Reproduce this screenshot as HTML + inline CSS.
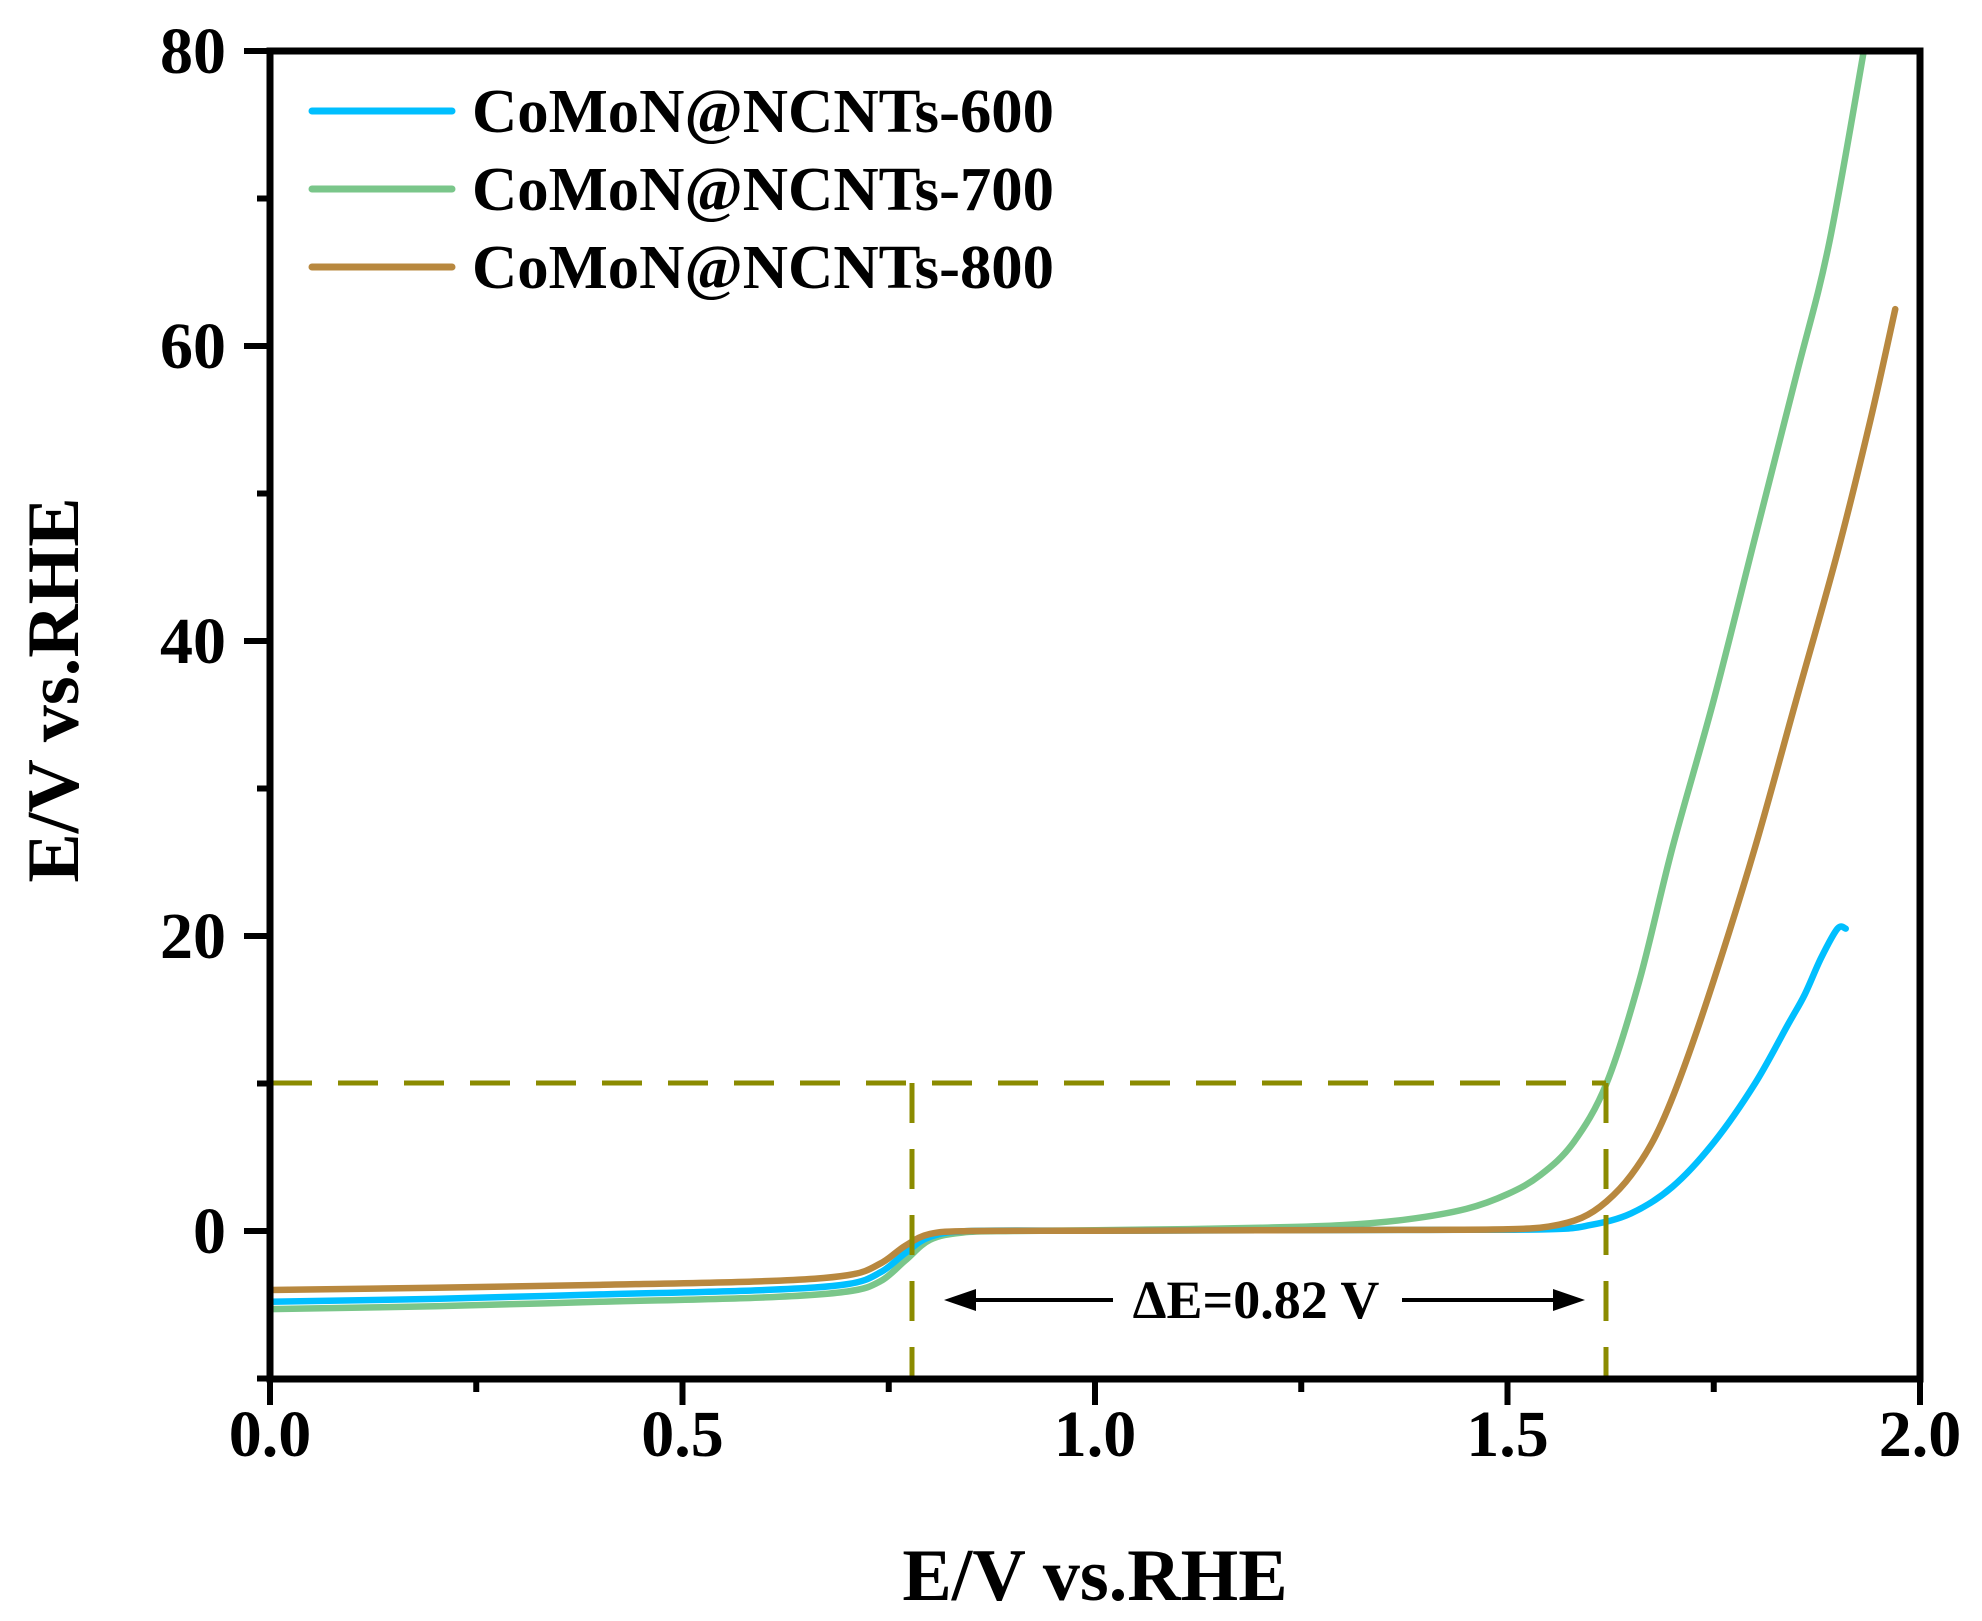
<!DOCTYPE html>
<html><head><meta charset="utf-8"><style>
html,body{margin:0;padding:0;background:#fff;}
svg{display:block;font-family:"Liberation Serif",serif;font-weight:bold;}
</style></head><body>
<svg id="s" width="1982" height="1621" viewBox="0 0 1982 1621" xmlns="http://www.w3.org/2000/svg">
<rect width="1982" height="1621" fill="#fff"/>
<defs><clipPath id="c"><rect x="270" y="51" width="1650" height="1328"/></clipPath></defs>
<g id="curves" clip-path="url(#c)" fill="none" stroke-width="6.5" stroke-linejoin="round" stroke-linecap="round"></g>
<g stroke="#8b8b00" stroke-width="5" fill="none" stroke-dasharray="40,26">
<line x1="272" y1="1083" x2="1606" y2="1083"/>
<line x1="912" y1="1083" x2="912" y2="1379"/>
<line x1="1606" y1="1083" x2="1606" y2="1379"/>
</g>
<g stroke="#000" stroke-width="4">
<line x1="960" y1="1300" x2="1113" y2="1300"/>
<line x1="1402" y1="1300" x2="1570" y2="1300"/>
</g>
<polygon points="944,1300 976,1289 976,1311" fill="#000"/>
<polygon points="1585,1300 1553,1289 1553,1311" fill="#000"/>
<text x="1256" y="1318" font-size="54" text-anchor="middle">ΔE=0.82 V</text>
<rect x="270" y="51" width="1650" height="1328" fill="none" stroke="#000" stroke-width="7"/>
<g stroke="#000" stroke-width="6" id="ticks"></g>
<g font-size="66" id="labels"></g>
<g stroke-width="7" stroke-linecap="round">
<line x1="312" y1="111" x2="452" y2="111" stroke="#00bfff"/>
<line x1="312" y1="189" x2="452" y2="189" stroke="#7ac68a"/>
<line x1="312" y1="267" x2="452" y2="267" stroke="#b8883f"/>
</g>
<g font-size="62">
<text x="472" y="132" textLength="582" lengthAdjust="spacingAndGlyphs">CoMoN@NCNTs-600</text>
<text x="472" y="210" textLength="582" lengthAdjust="spacingAndGlyphs">CoMoN@NCNTs-700</text>
<text x="472" y="288" textLength="582" lengthAdjust="spacingAndGlyphs">CoMoN@NCNTs-800</text>
</g>
<text x="1095" y="1600" font-size="74" text-anchor="middle">E/V vs.RHE</text>
<text transform="translate(78,690) rotate(-90)" font-size="74" text-anchor="middle">E/V vs.RHE</text>
</svg>
<script>
var X=function(e){return 270+825*e;},Y=function(j){return 1231-14.75*j;};
var ns="http://www.w3.org/2000/svg";
function path(pts,col){
  var P=pts.map(function(p){return [X(p[0]),Y(p[1])];});
  var d="M"+P[0][0]+","+P[0][1];
  for(var i=0;i<P.length-1;i++){
    var p0=P[Math.max(i-1,0)],p1=P[i],p2=P[i+1],p3=P[Math.min(i+2,P.length-1)];
    var c1=[p1[0]+(p2[0]-p0[0])/6,p1[1]+(p2[1]-p0[1])/6];
    var c2=[p2[0]-(p3[0]-p1[0])/6,p2[1]-(p3[1]-p1[1])/6];
    d+=" C"+c1[0]+","+c1[1]+" "+c2[0]+","+c2[1]+" "+p2[0]+","+p2[1];
  }
  var el=document.createElementNS(ns,"path");el.setAttribute("d",d);el.setAttribute("stroke",col);
  document.getElementById("curves").appendChild(el);
}
path([[0,-5.3],[0.2,-5.1],[0.4,-4.8],[0.6,-4.5],[0.7,-4.1],[0.74,-3.4],[0.77,-2],[0.8,-0.6],[0.84,-0.1],[0.9,0],[1.0,0.05],[1.1,0.12],[1.2,0.22],[1.3,0.4],[1.38,0.8],[1.45,1.5],[1.5,2.5],[1.54,3.8],[1.58,6],[1.62,10],[1.66,17],[1.7,26],[1.75,36],[1.8,47],[1.85,58],[1.89,67],[1.935,81]],"#7ac68a");
path([[0,-4.8],[0.2,-4.6],[0.4,-4.3],[0.6,-4],[0.7,-3.6],[0.74,-2.8],[0.77,-1.5],[0.8,-0.4],[0.85,0],[1.0,0.02],[1.2,0.05],[1.4,0.08],[1.55,0.12],[1.6,0.4],[1.65,1.2],[1.7,3],[1.75,6],[1.8,10],[1.84,14],[1.86,16],[1.88,18.5],[1.9,20.5],[1.91,20.5]],"#00bfff");
path([[0,-4],[0.2,-3.85],[0.4,-3.65],[0.6,-3.4],[0.7,-3],[0.74,-2.2],[0.77,-1],[0.8,-0.2],[0.85,0],[1.0,0.02],[1.2,0.05],[1.4,0.08],[1.5,0.12],[1.55,0.3],[1.59,0.9],[1.62,2],[1.65,3.8],[1.68,6.5],[1.71,10.5],[1.75,17],[1.8,26],[1.85,36],[1.9,46],[1.94,55],[1.97,62.5]],"#b8883f");
var T=document.getElementById("ticks"),L=document.getElementById("labels");
function line(x1,y1,x2,y2){var l=document.createElementNS(ns,"line");l.setAttribute("x1",x1);l.setAttribute("y1",y1);l.setAttribute("x2",x2);l.setAttribute("y2",y2);T.appendChild(l);}
function txt(x,y,s,a){var t=document.createElementNS(ns,"text");t.setAttribute("x",x);t.setAttribute("y",y);t.setAttribute("text-anchor",a);t.textContent=s;L.appendChild(t);}
for(var i=0;i<=8;i++){var e=i*0.25,x=X(e);line(x,1379,x,1379+(i%2?13:26));if(i%2==0)txt(x,1456,e.toFixed(1),"middle");}
for(var j=-10;j<=80;j+=10){var y=Y(j);line(270,y,270-((j%20==0)?26:13),y);if(j%20==0)txt(226,y+22,String(j),"end");}
</script>
</body></html>
